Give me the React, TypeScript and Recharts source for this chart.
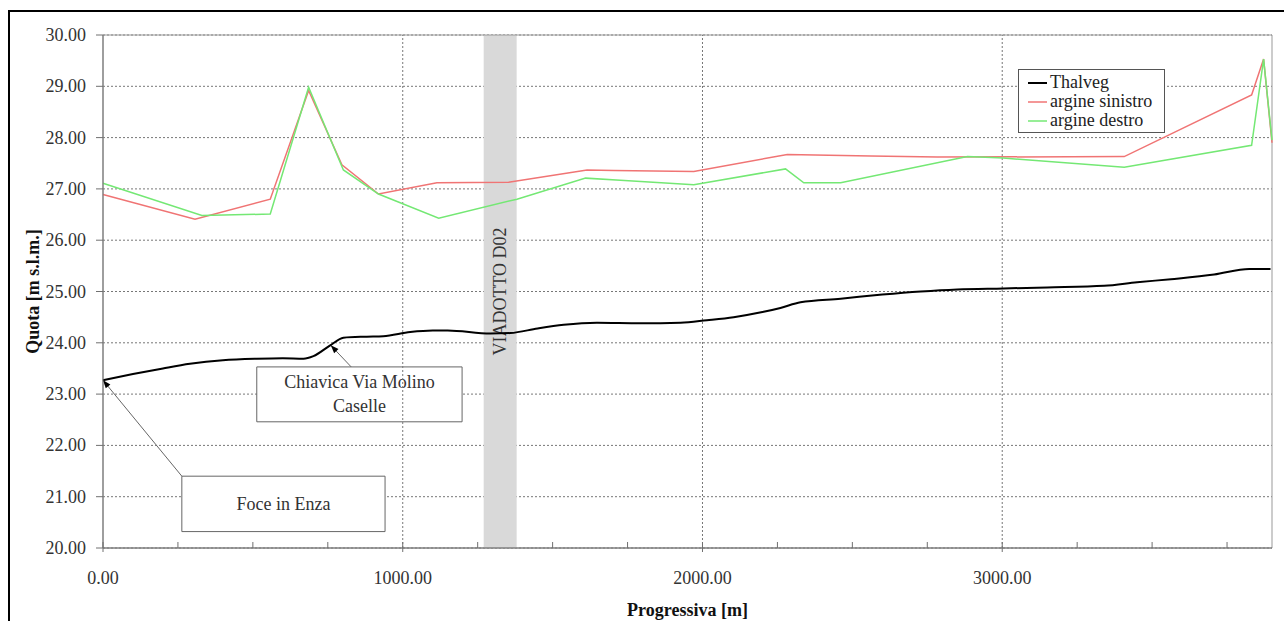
import {
  LineChart,
  Line,
  XAxis,
  YAxis,
  CartesianGrid,
  ReferenceArea,
  ReferenceLine,
  Legend,
} from "recharts";

const thalwegX = [
  0, 100, 200, 290, 400, 513, 600, 669, 702, 758, 802, 880, 935, 1025, 1100, 1150, 1292, 1359, 1450,
  1537, 1648, 1793, 1927, 2015, 2104, 2200, 2260, 2327, 2461, 2600, 2728, 2850, 3004, 3150, 3340,
  3450, 3563, 3707, 3824, 3895,
];
const thalwegY = [
  23.27, 23.39, 23.5, 23.59, 23.66, 23.69, 23.7, 23.69, 23.74, 23.95, 24.1, 24.12, 24.13, 24.21, 24.24,
  24.24, 24.18, 24.19, 24.28, 24.35, 24.39, 24.38, 24.39, 24.44, 24.5, 24.6, 24.68, 24.79, 24.86, 24.94,
  25.0, 25.04, 25.06, 25.08, 25.11, 25.18, 25.24, 25.33, 25.44, 25.44,
];

const sinistroX = [0, 307, 558, 686, 797, 919, 1114, 1353, 1615, 1704, 1971, 2283, 2561, 2784, 3407, 3832, 3872, 3900];
const sinistroY = [26.89, 26.41, 26.8, 28.92, 27.47, 26.9, 27.12, 27.13, 27.37, 27.36, 27.34, 27.67, 27.64, 27.62, 27.63, 28.83, 29.53, 27.9];

const destroX = [0, 330, 558, 686, 802, 919, 1120, 1381, 1610, 1726, 1971, 2277, 2338, 2461, 2884, 3003, 3407, 3832, 3872, 3900];
const destroY = [27.11, 26.48, 26.51, 28.98, 27.37, 26.9, 26.43, 26.8, 27.21, 27.17, 27.08, 27.39, 27.12, 27.12, 27.63, 27.6, 27.42, 27.85, 29.53, 27.95];

const seriesNames = ["Thalveg", "argine sinistro", "argine destro"];

const xTicks = [0, 250, 500, 750, 1000, 1250, 1500, 1750, 2000, 2250, 2500, 2750, 3000, 3250, 3500, 3750];
const xLabelTicks = [0, 1000, 2000, 3000];
const yTicks = [20, 21, 22, 23, 24, 25, 26, 27, 28, 29, 30];

const bridgeName = "VIADOTTO D02";
const bridgeFrom = 1270;
const bridgeTo = 1380;

const notes = [
  { lines: ["Foce in Enza"], x1: 263, x2: 941, y1: 20.32, y2: 21.4, fromX: 263, fromY: 21.4, toX: 0, toY: 23.27 },
  { lines: ["Chiavica Via Molino", "Caselle"], x1: 513, x2: 1198, y1: 22.46, y2: 23.53, fromX: 828, fromY: 23.53, toX: 760, toY: 23.95 },
];

const toPoints = (xs: number[], ys: number[]) => xs.map((x, i) => ({ x, y: ys[i] }));

const FONT = "'Liberation Serif', 'Times New Roman', serif";
const AXIS = "#707070";
const TICK_TEXT = "#333";

const XTick = (props: any) => {
  const { x, y, payload } = props;
  const major = xLabelTicks.includes(payload.value);
  return (
    <g>
      <line x1={x} x2={x} y1={y - 6} y2={major ? y + 4 : y} stroke={AXIS} />
      {major && (
        <text x={x} y={y + 36} textAnchor="middle" fontSize={18} fontFamily={FONT} fill={TICK_TEXT}>
          {payload.value.toFixed(2)}
        </text>
      )}
    </g>
  );
};

const YTick = (props: any) => {
  const { x, y, payload } = props;
  return (
    <text x={x} y={y + 6} textAnchor="end" fontSize={18} fontFamily={FONT} fill={TICK_TEXT}>
      {payload.value.toFixed(2)}
    </text>
  );
};

const XTitle = (props: any) => {
  const { x, y, width } = props.viewBox;
  return (
    <text x={x + width / 2} y={y + 68} textAnchor="middle" fontSize={18} fontWeight="bold" fontFamily={FONT} fill="#111">
      Progressiva [m]
    </text>
  );
};

const YTitle = (props: any) => {
  const { x, y, height } = props.viewBox;
  const cx = x + 39;
  const cy = y + height / 2;
  return (
    <text x={cx} y={cy} transform={`rotate(-90 ${cx} ${cy})`} textAnchor="middle" fontSize={18} fontWeight="bold" fontFamily={FONT} fill="#111">
      Quota [m s.l.m.]
    </text>
  );
};

const BridgeText = (props: any) => {
  const { x, y, width, height } = props.viewBox;
  const cx = x + width / 2;
  const cy = y + height / 2;
  return (
    <text x={cx} y={cy} transform={`rotate(-90 ${cx} ${cy})`} textAnchor="middle" dominantBaseline="central" fontSize={18} fontFamily={FONT} fill="#333">
      {bridgeName}
    </text>
  );
};

const BoxText = (props: any) => {
  const { x, y, width, height } = props.viewBox;
  const lines: string[] = props.lines;
  const cx = x + width / 2;
  const cy = y + height / 2;
  const step = 24;
  const start = cy - ((lines.length - 1) * step) / 2 + 6;
  return (
    <text textAnchor="middle" fontSize={18} fontFamily={FONT} fill="#333">
      {lines.map((l, i) => (
        <tspan key={i} x={cx} y={start + i * step}>
          {l}
        </tspan>
      ))}
    </text>
  );
};

const Arrow = (p: any) => {
  const { x1, y1, x2, y2 } = p;
  const ang = Math.atan2(y2 - y1, x2 - x1);
  const L = 8;
  const W = 3;
  const bx = x2 - L * Math.cos(ang);
  const by = y2 - L * Math.sin(ang);
  const px = -Math.sin(ang) * W;
  const py = Math.cos(ang) * W;
  return (
    <g>
      <line x1={x1} y1={y1} x2={x2} y2={y2} stroke="#666" strokeWidth={1} />
      <polygon points={`${x2},${y2} ${bx + px},${by + py} ${bx - px},${by - py}`} fill="#000" />
    </g>
  );
};

const LegendBox = (props: any) => {
  const items = [...(props.payload || [])].sort(
    (a: any, b: any) => seriesNames.indexOf(a.value) - seriesNames.indexOf(b.value)
  );
  return (
    <div
      style={{
        width: 147,
        height: 64,
        boxSizing: "border-box",
        border: "1.5px solid #555",
        background: "#fff",
        fontFamily: FONT,
        fontSize: 18,
        color: "#222",
        paddingTop: 3,
      }}
    >
      {items.map((it: any) => (
        <div key={it.value} style={{ display: "flex", alignItems: "center", height: 19, lineHeight: "19px" }}>
          <svg width={31} height={19}>
            <line x1={9} x2={28} y1={10} y2={10} stroke={it.color} strokeWidth={it.value === "Thalveg" ? 2 : 1.5} />
          </svg>
          <span>{it.value}</span>
        </div>
      ))}
    </div>
  );
};

export default function App() {
  return (
    <div style={{ position: "absolute", left: 0, top: 0, width: 1284, height: 621, overflow: "hidden", background: "#fff" }}>
      <LineChart width={1284} height={621} margin={{ top: 35, right: 12, left: 0, bottom: 0 }}>
        <CartesianGrid vertical={false} stroke="#777" strokeDasharray="2 2" />
        {xLabelTicks.slice(1).map((v) => (
          <ReferenceLine key={v} x={v} stroke="#777" strokeDasharray="2 2" />
        ))}
        <ReferenceArea x1={bridgeFrom} x2={bridgeTo} fill="#d9d9d9" fillOpacity={1} stroke="none" label={<BridgeText />} />
        <ReferenceArea x1={0} x2={3900} y1={20} y2={30} fill="none" stroke="#999" />
        {notes.map((n, i) => (
          <ReferenceArea
            key={"box" + i}
            x1={n.x1}
            x2={n.x2}
            y1={n.y1}
            y2={n.y2}
            fill="#fff"
            fillOpacity={1}
            stroke="#666"
            label={<BoxText lines={n.lines} />}
          />
        ))}
        {notes.map((n, i) => (
          <ReferenceLine
            key={"arr" + i}
            segment={[
              { x: n.fromX, y: n.fromY },
              { x: n.toX, y: n.toY },
            ]}
            shape={Arrow}
          />
        ))}
        <XAxis
          dataKey="x"
          type="number"
          domain={[0, 3900]}
          ticks={xTicks}
          interval={0}
          tickLine={false}
          tickSize={0}
          tickMargin={0}
          tick={<XTick />}
          height={73}
          stroke={AXIS}
          label={<XTitle />}
        />
        <YAxis
          type="number"
          domain={[20, 30]}
          ticks={yTicks}
          interval={0}
          width={103}
          tickSize={7}
          tickMargin={10}
          stroke={AXIS}
          tick={<YTick />}
          label={<YTitle />}
        />
        <Legend
          layout="vertical"
          align="center"
          verticalAlign="middle"
          wrapperStyle={{ left: 1018, top: 69, width: 147, height: 64 }}
          content={<LegendBox />}
        />
        <Line
          name="Thalveg"
          data={toPoints(thalwegX, thalwegY)}
          dataKey="y"
          type="monotone"
          stroke="#000"
          strokeWidth={2}
          dot={false}
          isAnimationActive={false}
        />
        <Line
          name="argine sinistro"
          data={toPoints(sinistroX, sinistroY)}
          dataKey="y"
          type="linear"
          stroke="#f07474"
          strokeWidth={1.5}
          dot={false}
          isAnimationActive={false}
        />
        <Line
          name="argine destro"
          data={toPoints(destroX, destroY)}
          dataKey="y"
          type="linear"
          stroke="#74e874"
          strokeWidth={1.5}
          dot={false}
          isAnimationActive={false}
        />
      </LineChart>
      <div
        style={{
          position: "absolute",
          left: 8,
          top: 10,
          width: 1300,
          height: 700,
          borderLeft: "2px solid #000",
          borderTop: "2px solid #000",
          pointerEvents: "none",
        }}
      />
    </div>
  );
}
